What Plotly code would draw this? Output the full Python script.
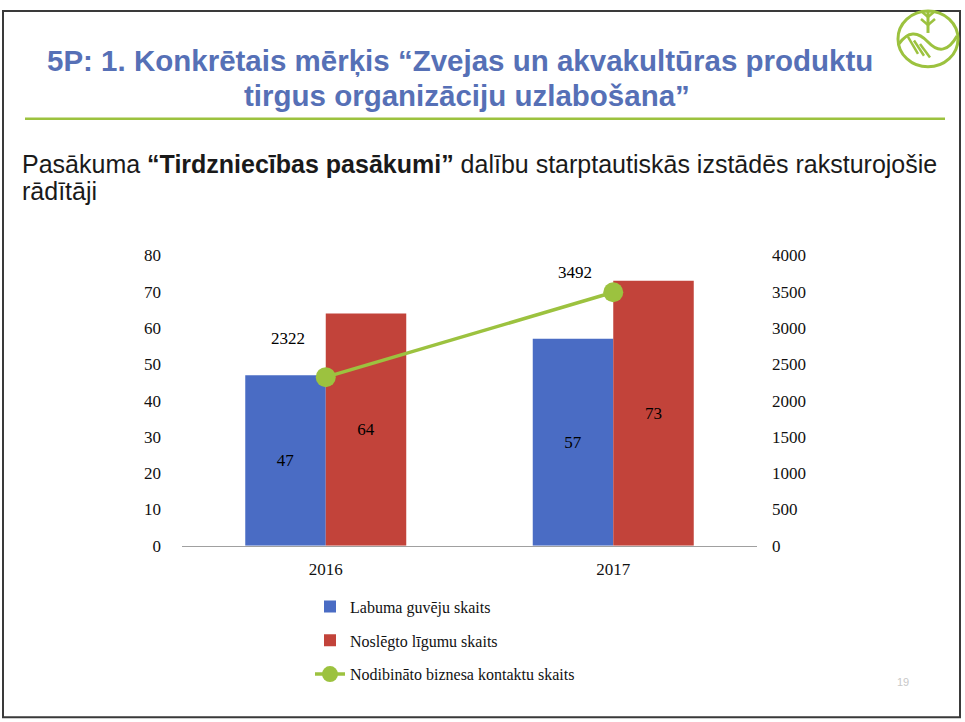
import plotly.graph_objects as go

# data
years = ["2016", "2017"]
labuma_guveji = [47, 57]
nosledzto_ligumu = [64, 73]
biznesa_kontakti = [2322, 3492]

left_ticks = [0, 10, 20, 30, 40, 50, 60, 70, 80]
right_ticks = [0, 500, 1000, 1500, 2000, 2500, 3000, 3500, 4000]

W, H = 965, 722
BLUE = "#4a6cc4"
RED = "#c2433a"
GREEN = "#9cc23f"
TITLE_BLUE = "#5670b6"
serif = "Liberation Serif, Times New Roman, serif"
sans = "Liberation Sans, Arial, sans-serif"

# the photographed page comes out slightly squeezed vertically, so map
# screen pixel rows back to paper coordinates
SY, OY = 0.976, 8


def px_x(x):
    return x / W


def px_y(y):
    return 1 - (y - OY) / SY / H


def text_at(x, y, text, size, color, xanchor="left", family=sans):
    fig.add_annotation(x=px_x(x), y=px_y(y), xref="paper", yref="paper",
                       xanchor=xanchor, yanchor="middle", showarrow=False,
                       text=text, font=dict(family=family, size=size, color=color))


fig = go.Figure()
fig.add_trace(go.Bar(
    x=years, y=labuma_guveji, name="Labuma guvēju skaits",
    marker=dict(color=BLUE, line=dict(width=0)),
    text=labuma_guveji, textposition="inside", insidetextanchor="middle",
    textfont=dict(family=serif, size=17, color="#000000"),
    legendgroup="a",
))
fig.add_trace(go.Bar(
    x=years, y=nosledzto_ligumu, name="Noslēgto līgumu skaits",
    marker=dict(color=RED, line=dict(width=0)),
    text=nosledzto_ligumu, textposition="inside", insidetextanchor="middle",
    textfont=dict(family=serif, size=17, color="#000000"),
    legendgroup="b",
))
fig.add_trace(go.Scatter(
    x=years, y=biznesa_kontakti, yaxis="y2", mode="lines+markers",
    name="Nodibināto biznesa kontaktu skaits",
    line=dict(color=GREEN, width=3.5),
    marker=dict(color=GREEN, size=20),
    legendgroup="c",
))

# line value labels, above-left of the points (x given as category index)
label_lift = [39, 20]
for i, v in enumerate(biznesa_kontakti):
    fig.add_annotation(x=i, y=v, xref="x", yref="y2", text=str(v),
                       showarrow=False, xshift=-38, yshift=label_lift[i],
                       xanchor="center", yanchor="middle",
                       font=dict(family=serif, size=17, color="#000000"))

fig.update_layout(
    width=W, height=H, autosize=False,
    margin=dict(l=0, r=0, t=0, b=0),
    paper_bgcolor="white", plot_bgcolor="white",
    barmode="group", bargap=0.44, bargroupgap=0,
    showlegend=True,
    legend=dict(x=px_x(310), y=px_y(590), xanchor="left", yanchor="top",
                traceorder="grouped", tracegroupgap=10,
                font=dict(family=serif, size=16, color="#111111"),
                bgcolor="rgba(0,0,0,0)"),
    xaxis=dict(type="category", categoryorder="array", categoryarray=years,
               range=[-0.5, len(years) - 0.5], autorange=False,
               domain=[px_x(182), px_x(757)], showline=True,
               linecolor="#a0a0a0", linewidth=1, ticks="",
               tickfont=dict(family=serif, size=17, color="#111111"),
               ticklabelstandoff=8, showgrid=False),
    yaxis=dict(domain=[px_y(546), px_y(255)], range=[0, 80],
               tickvals=left_ticks, showgrid=False, zeroline=False,
               tickfont=dict(family=serif, size=17, color="#111111"),
               ticklabelstandoff=20),
    yaxis2=dict(overlaying="y", side="right", range=[0, 4000],
                tickvals=right_ticks, showgrid=False, zeroline=False,
                tickfont=dict(family=serif, size=17, color="#111111"),
                ticklabelstandoff=14),
)

# slide title and subtitle
text_at(460, 60, "<b>5P: 1. Konkrētais mērķis “Zvejas un akvakultūras produktu</b>",
        29.5, TITLE_BLUE, xanchor="center")
text_at(467, 95, "<b>tirgus organizāciju uzlabošana”</b>", 29.5, TITLE_BLUE, xanchor="center")
text_at(20, 163, "Pasākuma <b>“Tirdzniecības pasākumi”</b> dalību starptautiskās izstādēs raksturojošie",
        25, "#1a1a1a")
text_at(20, 190, "rādītāji", 25, "#1a1a1a")
text_at(903, 683, "19", 11, "#c8c8c8", xanchor="center")

# green separator under the title
fig.add_shape(type="line", xref="paper", yref="paper",
              x0=px_x(25), x1=px_x(945), y0=px_y(118), y1=px_y(118),
              line=dict(color=GREEN, width=2.5))

# slide frame
fig.add_shape(type="rect", xref="paper", yref="paper",
              x0=px_x(3), x1=px_x(960), y0=px_y(718), y1=px_y(10),
              line=dict(color="#3a3a3a", width=2))

# logo in the corner: circle with a wave and wheat
fig.add_shape(type="circle", xref="paper", yref="paper",
              x0=px_x(898), x1=px_x(958), y0=px_y(66), y1=px_y(10),
              line=dict(color=GREEN, width=3))
wave = "M %f,%f Q %f,%f %f,%f Q %f,%f %f,%f" % (
    px_x(899), px_y(43), px_x(912), px_y(24), px_x(928), px_y(41),
    px_x(944), px_y(58), px_x(957), px_y(35))
fig.add_shape(type="path", xref="paper", yref="paper", path=wave,
              line=dict(color=GREEN, width=3))
for dx in (0, 6, 12):
    fig.add_shape(type="line", xref="paper", yref="paper",
                  x0=px_x(908 + dx), y0=px_y(36 + dx * 0.6),
                  x1=px_x(918 + dx), y1=px_y(53 + dx * 0.3),
                  line=dict(color=GREEN, width=2.5))
fig.add_shape(type="line", xref="paper", yref="paper",
              x0=px_x(928), y0=px_y(10), x1=px_x(928), y1=px_y(32),
              line=dict(color=GREEN, width=3))
for dy in (16, 24):
    fig.add_shape(type="line", xref="paper", yref="paper",
                  x0=px_x(921), y0=px_y(dy - 6), x1=px_x(928), y1=px_y(dy),
                  line=dict(color=GREEN, width=2.5))
    fig.add_shape(type="line", xref="paper", yref="paper",
                  x0=px_x(935), y0=px_y(dy - 6), x1=px_x(928), y1=px_y(dy),
                  line=dict(color=GREEN, width=2.5))

# pin the figure to the window's top-left corner
pin = ("document.body.style.margin='0';"
       "var gd=document.getElementById('{plot_id}');"
       "gd.style.position='fixed';gd.style.top='0';gd.style.left='0';")
fig.write_html("out.html", config={"displayModeBar": False, "responsive": False},
               post_script=pin)
